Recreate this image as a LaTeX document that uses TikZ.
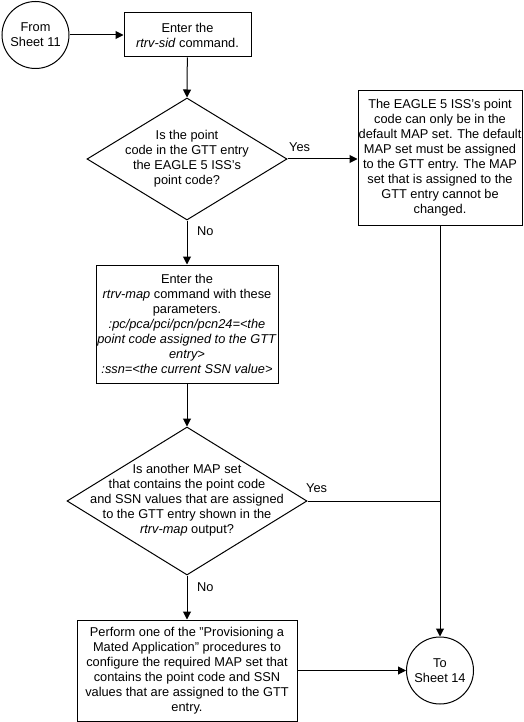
\documentclass[tikz,border=0pt]{standalone}
\usepackage{fontspec}
\setmainfont{Liberation Sans}
\usetikzlibrary{shapes.geometric,arrows.meta}
\newlength{\du}
\setlength{\du}{1pt}
\definecolor{dialinecolor}{rgb}{0.000000, 0.000000, 0.000000}
\tikzset{
  chart/.style={font=\fontsize{12.8}{15}\selectfont, text=dialinecolor},
  sheetnode/.style={chart, circle, draw=dialinecolor, line width=1\du, minimum size=67\du, inner sep=0pt, align=center},
  procbox/.style={chart, rectangle, draw=dialinecolor, line width=1\du, inner sep=0pt, align=center},
  decision/.style={diamond, draw=dialinecolor, line width=1\du, inner sep=0pt, aspect=1},
  flowline/.style={draw=dialinecolor, line width=1\du},
  flowarrow/.style={flowline, -{Triangle[length=8pt,width=8pt]}},
  answer/.style={chart, inner sep=0pt}
}
\begin{document}
\begin{tikzpicture}
\pgftransformxscale{1.000000}
\pgftransformyscale{-1.000000}
\useasboundingbox (0\du,0\du) rectangle (523\du,722\du);
% connector pages
\node[sheetnode] (from) at (35.5\du,35\du) {From\\Sheet 11};
\node[sheetnode] (tosheet) at (440\du,670.5\du) {To\\Sheet 14};
% boxes
\node[procbox, minimum width=127\du, minimum height=44\du] (rtrvsid) at (187.5\du,35\du) {Enter the\\\textit{rtrv-sid} command.};
\node[procbox, minimum width=164\du, minimum height=134\du] (eagle) at (440\du,158\du) {The EAGLE 5 ISS's point\\code can only be in the\\default MAP set. The default\\MAP set must be assigned\\to the GTT entry. The MAP\\set that is assigned to the\\GTT entry cannot be\\changed.};
\node[procbox, minimum width=182\du, minimum height=118\du] (rtrvmap) at (187\du,324\du) {Enter the\\\textit{rtrv-map} command with these\\parameters.\\\textit{:pc/pca/pci/pcn/pcn24=<the}\\\textit{point code assigned to the GTT}\\\textit{entry>}\\\textit{:ssn=<the current SSN value>}};
\node[procbox, minimum width=220\du, minimum height=101\du] (mated) at (187\du,670.5\du) {Perform one of the "Provisioning a\\Mated Application" procedures to\\configure the required MAP set that\\contains the point code and SSN\\values that are assigned to the GTT\\entry.};
% decisions
\node[decision, minimum width=200\du, minimum height=122\du] (ownpc) at (187\du,159\du) {};
\node[chart, align=center] (ownpctext) at (187\du,159\du) {Is the point\\code in the GTT entry\\the EAGLE 5 ISS's\\point code?};
\node[decision, minimum width=240\du, minimum height=148\du] (otherset) at (187\du,501\du) {};
\node[chart, align=center] (othersettext) at (187\du,500\du) {Is another MAP set\\that contains the point code\\and SSN values that are assigned\\to the GTT entry shown in the\\\textit{rtrv-map} output?};
% answers
\node[answer, anchor=west] (yes1) at (289\du,147\du) {Yes};
\node[answer, anchor=west] (no1) at (197\du,231\du) {No};
\node[answer, anchor=west] (yes2) at (306\du,488\du) {Yes};
\node[answer, anchor=west] (no2) at (197\du,587\du) {No};
\coordinate (join) at (eagle.south |- otherset.east);
% flow
\draw[flowarrow] (from) -- (rtrvsid);
\draw[flowarrow] (rtrvsid) -- (ownpc.north);
\draw[flowarrow] (ownpc.east) -- (eagle.west |- ownpc.east);
\draw[flowarrow] (ownpc.south) -- (rtrvmap);
\draw[flowarrow] (rtrvmap) -- (otherset.north);
\draw[flowline] (otherset.east) -- (join);
\draw[flowarrow] (eagle) -- (tosheet);
\draw[flowarrow] (otherset.south) -- (mated);
\draw[flowarrow] (mated) -- (tosheet);
\end{tikzpicture}
\end{document}
